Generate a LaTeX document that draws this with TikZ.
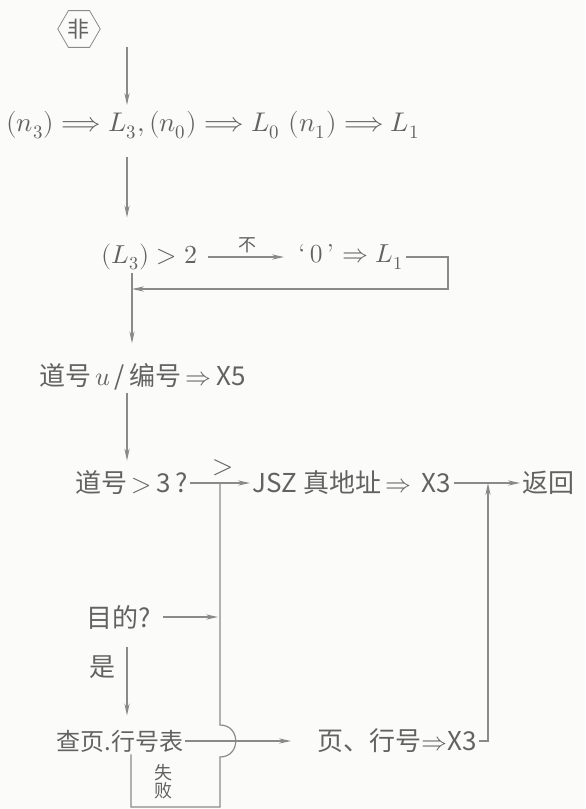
\documentclass[tikz,border=0pt]{standalone}
\usepackage{amsmath}
\usepackage{fontspec}
\usepackage{unicode-math}
\usepackage{tikz}
\usetikzlibrary{arrows.meta,positioning,shapes.geometric}
\setmathfont{Latin Modern Math}
\newfontfamily\cjk{Noto Sans CJK SC}
\definecolor{scanPaper}{RGB}{251,251,249}
\definecolor{pencilText}{RGB}{98,98,98}
\definecolor{pencilLine}{RGB}{138,138,138}

\begin{document}
\begin{tikzpicture}[x=0.5pt,y=-0.5pt,
    flow/.style={pencilLine, line width=0.6pt, -{Stealth[length=6pt,width=2.6pt]}},
    wire/.style={pencilLine, line width=0.6pt},
    hw/.style={text=pencilText, inner sep=1pt, font=\fontsize{13}{15}\selectfont\cjk},
    hwmath/.style={text=pencilText, inner sep=1pt, font=\fontsize{13.5}{16}\selectfont},
    hwsmall/.style={text=pencilText, inner sep=1pt, font=\fontsize{9}{9}\selectfont\cjk}]
    \fill[scanPaper] (0,0) rectangle (585,809);
    \useasboundingbox (0,0) rectangle (585,809);

    \node[regular polygon, regular polygon sides=6, draw=pencilLine, minimum size=20pt,
        inner sep=0pt, hw, font=\fontsize{11}{11}\selectfont\cjk] (fei) at (79,29) {非};

    \node[hwmath, anchor=west] (row1) at (4,125)
        {$(n_3)\Longrightarrow L_3,(n_0)\Longrightarrow L_0\ (n_1)\Longrightarrow L_1$};
    \node[hwmath, anchor=west, font=\fontsize{13}{15}\selectfont] (lthree) at (99,257) {$(L_3)>2$};
    \node[hwmath, anchor=west, font=\fontsize{13}{15}\selectfont] (zero) at (296,257) {`\,0\,' $\Rightarrow L_1$};
    \node[hw, anchor=west] (track) at (37,377) {道号\,$u$\,/\,编号\,$\Rightarrow$\,X5};
    \node[hw, anchor=west] (cond4) at (73,483) {道号\,$>$\,3\,?};
    \node[hw, anchor=west] (jsz) at (250,483) {JSZ\ 真地址\,$\Rightarrow$\ \,X3};
    \node[hw, anchor=west] (ret) at (520,483) {返回};
    \node[hw, anchor=west] (purpose) at (84,617) {目的?};
    \node[hw] (yes) at (102,667) {是};
    \node[hw, anchor=west, font=\fontsize{12}{14}\selectfont\cjk] (lookup) at (54,741) {查页.行号表};
    \node[hw, anchor=west] (page) at (315,741) {页、行号$\Rightarrow$X3};
    \node[hwsmall, align=center] (fail) at (163,782) {失\\败};

    \coordinate (c1) at (127,47);
    \coordinate (loopR) at (448,289);
    \coordinate (trunk) at (132,289);
    \coordinate (j1) at (220,483);
    \coordinate (j2) at (488,483);
    \coordinate (railL) at (131,807);
    \coordinate (railR) at (220,807);

    \draw[flow, shorten >=2pt] (c1) -- (c1 |- row1.north);
    \draw[flow, shorten <=8pt, shorten >=12pt] (row1.south -| c1) -- (lthree.north -| c1);
    \draw[flow, shorten <=4pt, shorten >=6pt] (lthree.east) --
        node[above=1pt, hwsmall] (bu) {不} (zero.west);
    \draw[flow] (zero.east) -| (loopR) -- (trunk);
    \draw[flow, shorten >=9pt] (lthree.south -| trunk) -- (track.north -| trunk);
    \draw[flow, shorten >=4pt] (track.south -| c1) -- (cond4.north -| c1);
    \draw[flow] (cond4.east) -- node[pos=0.55, above=2pt, hwmath] (gt) {$>$} (jsz.west);
    \draw[flow] (jsz.east) -- (ret.west);
    \draw[flow, shorten <=5pt, shorten >=1pt] (purpose.east) -- (purpose.east -| j1);
    \draw[flow, shorten <=8pt, shorten >=6pt] (purpose.south -| c1) -- (lookup.north -| c1);
    \draw[flow, shorten >=12pt] (lookup.east) -- (page.west);
    \draw[flow] (page.east) -| (j2);
    \draw[wire] (lookup.south -| railL) -- (railL) -- (railR) -- (220,757)
        .. controls (241,757) and (241,725) .. (220,725) -- (j1);
\end{tikzpicture}
\end{document}
